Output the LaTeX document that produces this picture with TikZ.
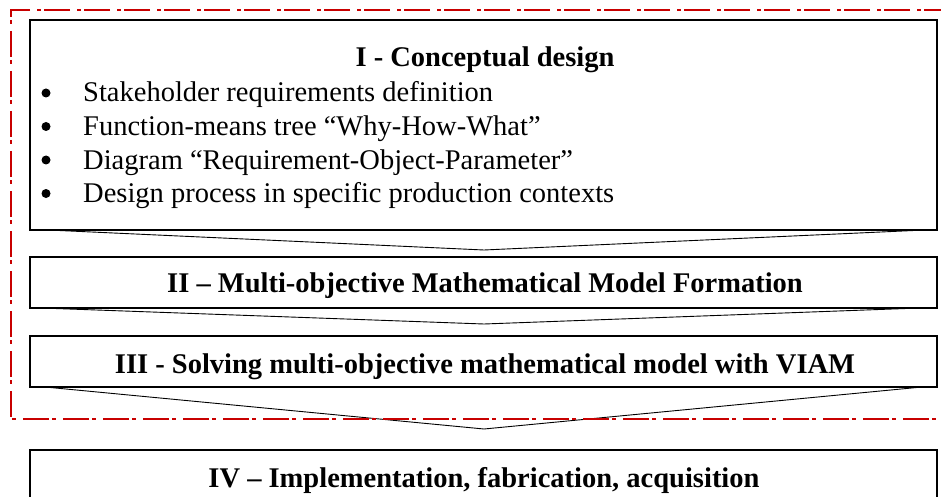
\documentclass[tikz,border=0pt]{standalone}
\usepackage{fontspec}
\setmainfont{Liberation Serif}
\usetikzlibrary{calc}
\begin{document}
\begin{tikzpicture}[x=1pt,y=-1pt,
  stagebox/.style={draw=black, line width=1.1pt, fill=white, inner sep=0pt},
  chev/.style={draw=black, line width=0.9pt, line join=miter},
  title/.style={font=\fontsize{28.5}{33.5}\selectfont\bfseries, anchor=base, inner sep=0pt},
  item/.style={font=\fontsize{28.5}{33.5}\selectfont, anchor=base west, inner sep=0pt},
  bul/.style={circle, fill=black, inner sep=0pt, minimum size=9pt},
  frame/.style={draw={rgb,255:red,200;green,0;blue,0}, line width=2.3pt, dash pattern=on 26pt off 3pt on 4pt off 7pt}
]
\useasboundingbox (0,0) rectangle (941,497);
\fill[white] (0,0) rectangle (941,497);
% boxes
\node[stagebox, minimum width=907pt, minimum height=210pt] (b1) at (483.5,125) {};
\node[stagebox, minimum width=907pt, minimum height=51pt] (b2) at (483.5,282.5) {};
\node[stagebox, minimum width=907pt, minimum height=51pt] (b3) at (483.5,361.5) {};
\node[stagebox, minimum width=907pt, minimum height=80pt] (b4) at (483.5,490) {};
% chevrons
\coordinate (c1a) at (48,230); \coordinate (c1t) at (484,250); \coordinate (c1b) at (925,230);
\coordinate (c2a) at (41,308); \coordinate (c2t) at (484,324); \coordinate (c2b) at (920,308);
\coordinate (c3a) at (45,387); \coordinate (c3t) at (484,429); \coordinate (c3b) at (922,387);
\draw[chev] (c1a) -- (c1t) -- (c1b);
\draw[chev] (c2a) -- (c2t) -- (c2b);
\draw[chev] (c3a) -- (c3t) -- (c3b);
% red frame
\draw[frame] (950,10) -- (11,10) -- (11,419) -- (950,419);
% texts
\node[title] (t1) at (485,67) {I - Conceptual design};
\node[bul] (u1) at (46,93) {};
\node[bul] (u2) at (46,126.5) {};
\node[bul] (u3) at (46,160) {};
\node[bul] (u4) at (46,193.5) {};
\node[item] (i1) at (83,102) {Stakeholder requirements definition};
\node[item] (i2) at (83,135.5) {Function-means tree “Why-How-What”};
\node[item] (i3) at (83,169) {Diagram “Requirement-Object-Parameter”};
\node[item] (i4) at (83,202.5) {Design process in specific production contexts};
\node[title] (t2) at (485,292) {II – Multi-objective Mathematical Model Formation};
\node[title] (t3) at (485,373) {III - Solving multi-objective mathematical model with VIAM};
\node[title] (t4) at (484,487) {IV – Implementation, fabrication, acquisition};
\end{tikzpicture}
\end{document}
